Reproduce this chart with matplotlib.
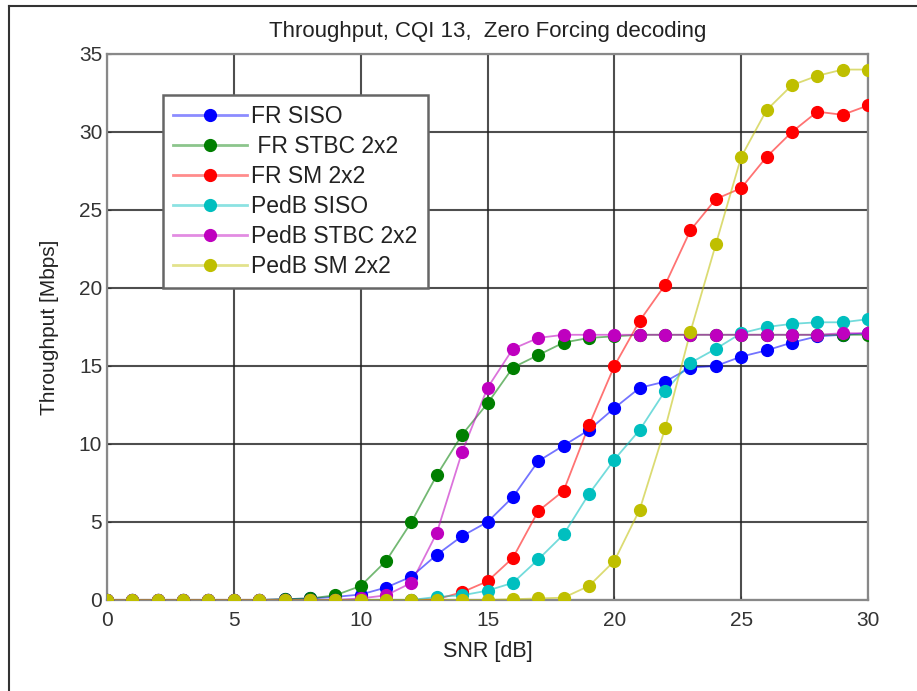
import numpy as np
import matplotlib
matplotlib.use("Agg")
import matplotlib.pyplot as plt
from matplotlib.lines import Line2D
from matplotlib.legend_handler import HandlerBase

plt.rcParams['font.family'] = ['Liberation Sans', 'DejaVu Sans']

snr = list(range(0, 31))

# throughput values [Mbps], SNR 0..30 dB
fr_siso = [0, 0, 0, 0, 0, 0, 0, 0.05, 0.1, 0.2, 0.35, 0.8, 1.5, 2.9, 4.1, 5.0,
           6.6, 8.9, 9.9, 10.9, 12.3, 13.6, 14.0, 14.9, 15.0, 15.6, 16.0, 16.5,
           16.9, 17.0, 17.1]
fr_stbc = [0, 0, 0, 0, 0, 0, 0, 0.05, 0.1, 0.3, 0.9, 2.5, 5.0, 8.0, 10.6, 12.6,
           14.9, 15.7, 16.5, 16.8, 16.9, 17.0, 17.0, 17.0, 17.0, 17.0, 17.0, 17.0,
           17.0, 17.0, 17.0]
fr_sm = [0, 0, 0, 0, 0, 0, 0, 0, 0, 0, 0, 0, 0, 0.05, 0.5, 1.2,
         2.7, 5.7, 7.0, 11.2, 15.0, 17.9, 20.2, 23.7, 25.7, 26.4, 28.4, 30.0,
         31.3, 31.1, 31.7]
pedb_siso = [0, 0, 0, 0, 0, 0, 0, 0, 0, 0, 0, 0, 0, 0.2, 0.3, 0.6,
             1.1, 2.6, 4.2, 6.8, 9.0, 10.9, 13.4, 15.2, 16.1, 17.1, 17.5, 17.7,
             17.8, 17.8, 18.0]
pedb_stbc = [0, 0, 0, 0, 0, 0, 0, 0, 0, 0, 0.1, 0.3, 1.1, 4.3, 9.5, 13.6,
             16.1, 16.8, 17.0, 17.0, 17.0, 17.0, 17.0, 17.0, 17.0, 17.0, 17.0, 17.0,
             17.0, 17.1, 17.1]
pedb_sm = [0, 0, 0, 0, 0, 0, 0, 0, 0, 0, 0, 0, 0, 0, 0, 0,
           0.05, 0.1, 0.15, 0.9, 2.5, 5.8, 11.0, 17.2, 22.8, 28.4, 31.4, 33.0,
           33.6, 34.0, 34.0]

series = [
    (fr_siso, "FR SISO", "#0000ff"),
    (fr_stbc, " FR STBC 2x2", "#007f00"),
    (fr_sm, "FR SM 2x2", "#ff0000"),
    (pedb_siso, "PedB SISO", "#00bfbf"),
    (pedb_stbc, "PedB STBC 2x2", "#bf00bf"),
    (pedb_sm, "PedB SM 2x2", "#bfbf00"),
]


# legend entry: light line with a solid dot in the middle
class LineDotHandler(HandlerBase):
    def __init__(self, col):
        super().__init__()
        self.col = col

    def create_artists(self, legend, orig_handle, xdescent, ydescent,
                       width, height, fontsize, trans):
        y = height / 2 - ydescent
        ln = Line2D([-xdescent, width - xdescent], [y, y], color=self.col,
                    alpha=0.45, lw=2, transform=trans)
        dot = Line2D([(width - xdescent) / 2], [y], ls="none", marker="o",
                     ms=8.5, color=self.col, transform=trans)
        return [ln, dot]


fig = plt.figure(figsize=(9.17, 6.91), dpi=100)
ax = fig.add_axes([0.1167, 0.1317, 0.8299, 0.7902])

for vals, label, col in series:
    ax.plot(snr, vals, color=col, alpha=0.55, lw=1.3, zorder=3)
    ax.plot(snr, vals, ls="none", marker="o", ms=8.5, color=col, zorder=4)

ax.set_xlim(0, 30)
ax.set_ylim(0, 35)
ax.set_xticks(range(0, 31, 5))
ax.set_yticks(range(0, 36, 5))
ax.grid(True, color="#222222", lw=1.5, alpha=0.8)
ax.set_axisbelow(True)
ax.tick_params(direction="in", length=3, labelsize=15, colors="#333333")
ax.tick_params(axis="x", pad=8)
for s in ax.spines.values():
    s.set_color("#888888")
    s.set_linewidth(1.6)

ax.set_title("Throughput, CQI 13,  Zero Forcing decoding", fontsize=16,
             color="#222222", pad=12)
ax.set_xlabel("SNR [dB]", fontsize=15.5, color="#222222", labelpad=8)
ax.set_ylabel("Throughput [Mbps]", fontsize=15, color="#222222", labelpad=14)

leg_handles = [Line2D([], [], color=s[2]) for s in series]
leg = ax.legend(leg_handles, [s[1] for s in series],
                handler_map={h: LineDotHandler(s[2]) for h, s in zip(leg_handles, series)},
                loc="upper left", bbox_to_anchor=(0.0736, 0.925),
                borderaxespad=0,
                fontsize=16.5, handlelength=3.2, handletextpad=0.2,
                labelspacing=0.3, borderpad=0.45, fancybox=False,
                framealpha=1, edgecolor="#666666")
leg.get_frame().set_linewidth(1.8)
for t in leg.get_texts():
    t.set_color("#222222")

# outer frame of the screenshot
fig.add_artist(Line2D([9 / 917, 9 / 917], [0, 1 - 6 / 691], color="#333333",
                      lw=1.5, transform=fig.transFigure))
fig.add_artist(Line2D([9 / 917, 1], [1 - 6 / 691, 1 - 6 / 691], color="#333333",
                      lw=1.5, transform=fig.transFigure))

fig.savefig("out.png", dpi=100)
